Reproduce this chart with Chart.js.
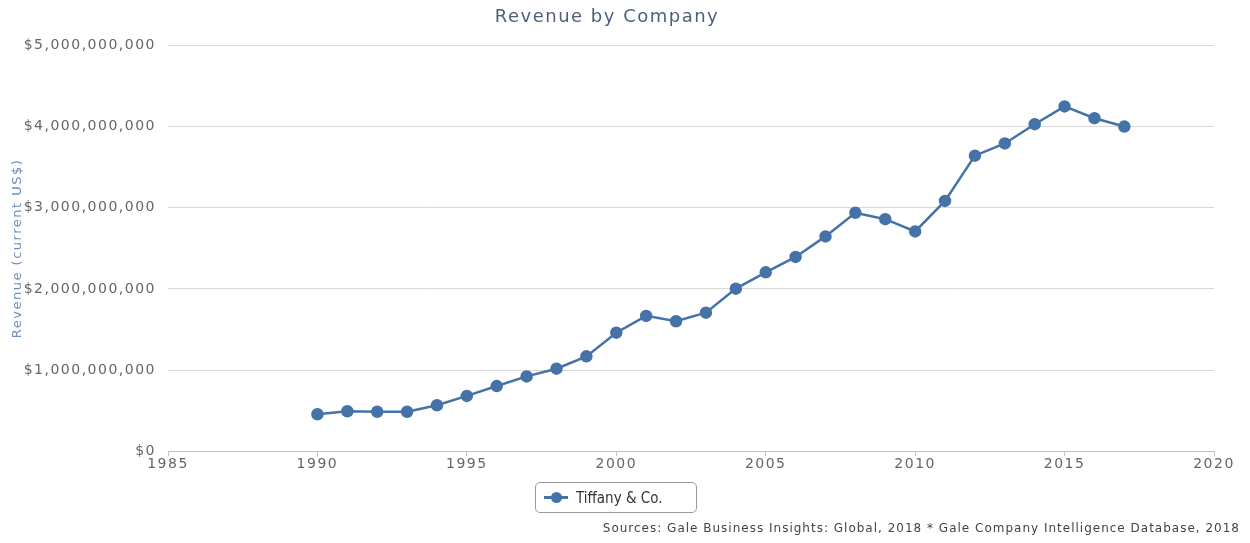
<!DOCTYPE html>
<html>
<head>
<meta charset="utf-8">
<script src="https://cdn.jsdelivr.net/npm/chart.js@4.4.0/dist/chart.umd.min.js"></script>
<style>
  body { margin: 0; background: #fff; }
  #wrap { position: relative; width: 1250px; height: 543px; }
  #legend {
    position: absolute; left: 535px; top: 482px; width: 160px; height: 29px;
    border: 1px solid #999; border-radius: 5px; box-sizing: content-box;
    font-family: "DejaVu Sans Condensed", "DejaVu Sans", sans-serif; font-size: 15px; color: #333;
    display: flex; align-items: center;
  }
  #legend .mark { position: relative; width: 24px; height: 3px; background: #4572a7; margin-left: 8px; margin-right: 8px; }
  #legend .mark i { position: absolute; left: 7px; top: -4px; width: 11px; height: 11px; border-radius: 50%; background: #4572a7; }
  #source {
    position: absolute; right: 10px; top: 521px;
    font-family: "DejaVu Sans", sans-serif; font-size: 12px; color: #444;
    letter-spacing: 1px; white-space: nowrap;
  }
</style>
</head>
<body>
<div id="wrap">
  <canvas id="myChart" width="1250" height="543"></canvas>
  <div id="legend"><span class="mark"><i></i></span>Tiffany &amp; Co.</div>
  <div id="source">Sources: Gale Business Insights: Global, 2018 * Gale Company Intelligence Database, 2018</div>
</div>
<script>
// Données (revenus en dollars)
var years = [1990, 1991, 1992, 1993, 1994, 1995, 1996, 1997, 1998, 1999,
             2000, 2001, 2002, 2003, 2004, 2005, 2006, 2007, 2008, 2009,
             2010, 2011, 2012, 2013, 2014, 2015, 2016, 2017];
var revenue = [456e6, 492e6, 486e6, 486e6, 566e6, 682e6, 803e6, 922e6, 1017e6, 1169e6,
               1461e6, 1668e6, 1602e6, 1708e6, 2004e6, 2205e6, 2395e6, 2648e6, 2939e6, 2860e6,
               2709e6, 3085e6, 3643e6, 3794e6, 4031e6, 4250e6, 4105e6, 4002e6];
var seriesName = 'Tiffany & Co.';
var xMin = 1985, xMax = 2020, xStep = 5;
var yMax = 5e9, yStep = 1e9;

var points = years.map(function (y, i) { return { x: y, y: revenue[i] }; });

// espacement des lettres comme sur l'image
const spacing = {
    id: 'spacing',
    beforeDraw: function (c) { c.ctx.letterSpacing = '1.5px'; }
};

const ctx = document.getElementById('myChart');
const chart = new Chart(ctx, {
    type: 'line',
    data: {
        datasets: [{
            label: seriesName,
            data: points,
            borderColor: '#4572a7',
            backgroundColor: '#4572a7',
            borderWidth: 2.5,
            pointRadius: 5,
            pointHoverRadius: 5,
            tension: 0
        }]
    },
    plugins: [spacing],
    options: {
        responsive: false,
        animation: false,
        layout: { padding: { top: 0, right: 36, bottom: 70, left: 0 } },
        plugins: {
            legend: { display: false },
            tooltip: { enabled: false },
            title: {
                display: true,
                text: 'Revenue by Company',
                color: '#4d5f7c',
                font: { family: 'DejaVu Sans', size: 18, weight: 'normal' },
                padding: { top: 7, bottom: 17 }
            }
        },
        scales: {
            x: {
                type: 'linear',
                min: xMin,
                max: xMax,
                ticks: {
                    stepSize: xStep,
                    color: '#666',
                    font: { family: 'DejaVu Sans', size: 14 },
                    padding: 0,
                    callback: function (v) { return String(v); }
                },
                grid: { drawOnChartArea: false, drawTicks: true, tickLength: 5, tickColor: '#c8c8c8' },
                border: { display: true, color: '#c0c0c0', width: 1 }
            },
            y: {
                min: 0,
                max: yMax,
                afterFit: function (scale) { scale.width = 168; },
                ticks: {
                    stepSize: yStep,
                    color: '#666',
                    font: { family: 'DejaVu Sans', size: 14 },
                    padding: 12,
                    callback: function (v) { return '$' + v.toLocaleString('en-US'); }
                },
                title: {
                    display: true,
                    text: 'Revenue (current US$)',
                    color: '#6b8ebb',
                    font: { family: 'DejaVu Sans', size: 13 },
                    padding: { top: 10, bottom: 0 }
                },
                grid: { color: '#d8d8d8', drawTicks: false },
                border: { display: false }
            }
        }
    }
});
</script>
</body>
</html>
